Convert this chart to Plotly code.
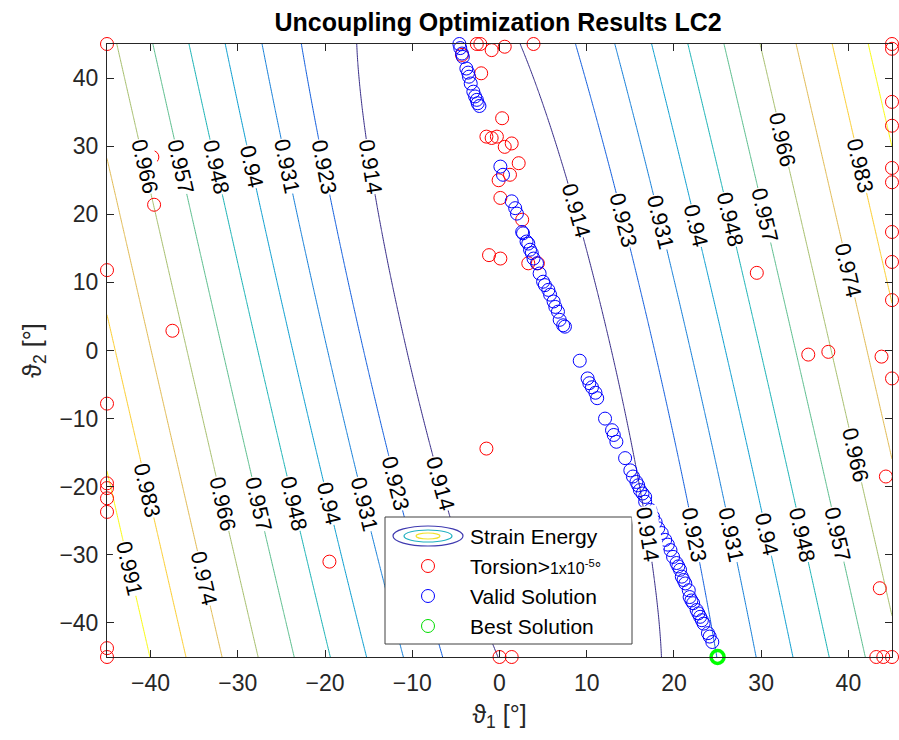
import numpy as np
import plotly.graph_objects as go

# ---------------------------------------------------------------------------
# Search grid of the two ply angles [deg]
theta_1 = np.linspace(-45, 45, 361)
theta_2 = np.linspace(-45, 45, 361)

# Normalised strain-energy surface: a skewed valley with softened walls
valley_offset = 1.1       # valley centre at theta_2 = 0
valley_skew = -0.18       # shift of the centre per degree of theta_2
wall_base = 0.8889        # intercept of the wall asymptote
wall_slope = 0.00208      # energy gain per degree away from the valley centre
knee_pos = 10.5           # distance at which the wall bends up [deg]
knee_width = 3.0          # softness of that bend [deg]
dip_depth = 0.0035        # extra depth of the valley at theta_2 = 0
dip_reach = 20.0          # how far the dip spreads across the valley [deg]

# Contour levels
level_start = 0.914
level_step = 0.0086
level_count = 10

# Valid solutions (torsion below threshold)
valid_t1 = [-4.6, -4.5, -4.3, -4.2, -3.8, -3.6, -3.5, -3.3, -3.0, -2.8, -2.6, -2.5, -2.3,
            0.1, 0.4,
            1.4, 1.8, 2.0, 2.6, 2.7, 3.1, 3.3, 3.5, 3.7, 3.9, 4.3, 4.6, 5.0, 5.2, 5.6, 5.8,
            6.2, 6.4, 6.7, 6.9, 7.3, 7.5,
            9.2, 10.1, 10.3, 10.6, 11.0, 11.2, 12.1, 12.9, 13.1, 13.4, 14.4, 15.0, 15.3,
            15.7, 15.9, 16.1, 16.4, 16.7, 16.7, 17.3, 17.6, 17.9, 18.2, 18.6, 19.0, 19.3,
            19.6, 19.9, 20.3, 20.5, 20.7, 20.9, 21.1, 21.3, 21.7, 21.8, 22.0, 22.2, 22.6,
            22.8, 23.0, 23.2, 23.4, 23.9, 24.1, 24.4]
valid_t2 = [45.0, 44.4, 43.6, 43.1, 41.4, 40.8, 40.2, 39.2, 38.0, 37.3, 36.8, 36.3, 35.9,
            27.0, 25.8,
            21.9, 20.9, 20.1, 17.4, 17.2, 16.0, 15.7, 14.8, 14.3, 13.5, 12.8, 11.3, 10.1,
            9.6, 8.9, 8.2, 7.2, 6.4, 5.7, 4.5, 3.7, 3.5,
            -1.5, -4.1, -4.8, -5.4, -6.2, -7.0, -10.0, -11.7, -12.4, -13.4, -15.8, -17.6,
            -18.5, -19.3, -19.8, -20.5, -21.0, -21.5, -22.2, -23.4, -24.4, -25.2, -26.1,
            -26.8, -27.8, -28.5, -29.3, -30.3, -31.2, -31.7, -32.2, -33.2, -33.7, -34.2,
            -35.2, -36.2, -36.7, -37.1, -38.1, -38.6, -39.1, -39.6, -40.1, -41.5, -42.0,
            -42.8]

# Rejected solutions (torsion above 1e-5 deg)
torsion_t1 = [-45, -45, -45, -45, -45, -45, -45, -45, -45,
              -39.8, -39.6, -37.5, -19.5,
              -4.3, -2.6, -2.2, -0.9, 0.6, 3.9, -2.1, 0.3, -1.5, -0.9, -0.3, 0.6, 1.4,
              2.2, -0.1, 1.2, 0.1, 2.6, -1.2, 0.1, 3.3, 4.4,
              -1.5, 0.0, 1.4,
              26.6, 29.5, 35.4, 37.7, 43.8,
              45, 45, 45, 45, 45, 45, 45, 45, 45, 45, 44.3, 43.6, 43.2, 44.0, 45]
torsion_t2 = [45, 11.8, -7.8, -19.5, -20.2, -21.7, -23.7, -43.7, -45,
              28.4, 21.4, 2.9, -31.0,
              43.4, 45, 45, 44.1, 44.6, 45, 40.7, 34.1, 31.4, 31.2, 31.4, 29.9, 30.4,
              27.5, 25.0, 25.8, 22.4, 19.2, 14.0, 13.5, 12.8, 12.8,
              -14.4, -45, -45,
              17.2, 11.4, -0.6, -0.2, -0.9,
              45, 44.3, 36.5, 33.0, 26.8, 24.7, 17.4, 13.0, 7.4, -4.1, -18.5, -34.9,
              -45, -45, -45]

# Optimum
best_t1 = [25.0]
best_t2 = [-45.0]

tick_vals = [-40, -30, -20, -10, 0, 10, 20, 30, 40]

# MATLAB parula colour map (sampled)
parula = [
    [0.0, "#352a87"], [0.111, "#0f5cdd"], [0.222, "#127dd8"], [0.333, "#079ccf"],
    [0.444, "#15b1b4"], [0.556, "#59bd8c"], [0.667, "#a5be6b"], [0.778, "#e1ba52"],
    [0.889, "#fccd2e"], [1.0, "#f9fb0e"],
]


# ---------------------------------------------------------------------------
def valley_centre(t2):
    return valley_offset + valley_skew * t2


def surface(t1, t2):
    d = np.abs(t1 - valley_centre(t2))
    wall = wall_base + wall_slope * knee_pos + wall_slope * knee_width * np.logaddexp(
        0.0, (d - knee_pos) / knee_width)
    dip = dip_depth * (1 - (t2 / 45.0) ** 2) * np.exp(-(d / dip_reach) ** 2)
    return wall - dip


def level_crossing(level, t2, side):
    """theta_1 where the surface equals `level` on one flank of the valley."""
    d = np.linspace(0.0, 90.0, 9001)
    vals = surface(valley_centre(t2) + side * d, t2)
    return valley_centre(t2) + side * np.interp(level, vals, d)


T1, T2 = np.meshgrid(np.array(theta_1), np.array(theta_2))
energy = surface(T1, T2)
levels = [level_start + k * level_step for k in range(level_count)]
level_end = levels[-1]

FONT = "Liberation Sans, Arial, Helvetica, sans-serif"
AX_COL = "#262626"
W, H = 899, 740
ML, MR, MT, MB = 107, 7, 44, 83
PW, PH = W - ML - MR, H - MT - MB
sx, sy = PW / 90.0, PH / 90.0   # pixels per degree

fig = go.Figure()

fig.add_trace(go.Contour(
    x=theta_1, y=theta_2, z=energy,
    contours=dict(start=level_start, end=level_end + 1e-4, size=level_step,
                  coloring="lines", showlabels=False),
    colorscale=parula, zauto=False, zmin=level_start, zmax=level_end,
    line=dict(width=1, smoothing=1),
    showscale=False, showlegend=False, hoverinfo="skip",
))

annotations = []

# Contour labels: (level index, flank, theta_2 row) placed on the computed lines
label_spots = (
    [(k, -1, 27.0) for k in range(7)]
    + [(0, -1, -19.5), (1, -1, -19.5)]
    + [(k, -1, -22.5) for k in range(2, 7)]
    + [(7, -1, -33.5), (8, -1, -20.5), (9, -1, -32.0)]
    + [(0, 1, 20.5), (1, 1, 19.2), (2, 1, 18.9), (3, 1, 18.4), (4, 1, 19.2),
       (5, 1, 19.9), (6, 1, 31.0), (7, 1, 11.8), (8, 1, 27.2)]
    + [(k, 1, -27.0) for k in range(6)]
    + [(6, 1, -15.3)]
)
for k, side, row in label_spots:
    lev = levels[k]
    xc = level_crossing(lev, row, side)
    slope = (level_crossing(lev, row - 0.5, side) - level_crossing(lev, row + 0.5, side))
    angle = np.degrees(np.arctan2(sy, slope * sx))
    annotations.append(dict(
        x=float(xc), y=row, xref="x", yref="y", showarrow=False,
        text=f"{lev:.3f}".rstrip("0"), textangle=float(angle),
        font=dict(family=FONT, size=22, color="black"),
        bgcolor="white", borderpad=0, xanchor="center", yanchor="middle",
    ))

fig.add_trace(go.Scatter(
    x=torsion_t1, y=torsion_t2, mode="markers", showlegend=False, cliponaxis=False,
    marker=dict(symbol="circle-open", size=13, color="#ff0000", line=dict(width=1)),
))
fig.add_trace(go.Scatter(
    x=valid_t1, y=valid_t2, mode="markers", showlegend=False, cliponaxis=False,
    marker=dict(symbol="circle-open", size=13, color="#0000ff", line=dict(width=1)),
))
fig.add_trace(go.Scatter(
    x=best_t1, y=best_t2, mode="markers", showlegend=False, cliponaxis=False,
    marker=dict(symbol="circle-open", size=13, color="#00ff00", line=dict(width=3.5)),
))


# ---------------------------------------------------------------------------
# Legend box drawn in paper coordinates
def px(x):
    return (x - ML) / PW


def py(y):
    return (H - MB - y) / PH


shapes = [dict(type="rect", xref="paper", yref="paper", layer="above",
               x0=px(385), x1=px(632), y0=py(644), y1=py(517),
               line=dict(color="#404040", width=1), fillcolor="white")]

icon_x = px(428)
rows = [536, 566, 596, 626]
# nested ellipses for the contour entry
for half_w, half_h, col in [(35, 10, "#3f3ab0"), (24, 6, "#1fb0c0"), (12, 3, "#f2e22a")]:
    shapes.append(dict(type="circle", xref="paper", yref="paper", layer="above",
                       xsizemode="pixel", ysizemode="pixel",
                       xanchor=icon_x, yanchor=py(rows[0]),
                       x0=-half_w, x1=half_w, y0=-half_h, y1=half_h,
                       line=dict(color=col, width=1.2)))
for row, col in zip(rows[1:], ["#ff0000", "#0000ff", "#00dd00"]):
    shapes.append(dict(type="circle", xref="paper", yref="paper", layer="above",
                       xsizemode="pixel", ysizemode="pixel",
                       xanchor=icon_x, yanchor=py(row),
                       x0=-6.5, x1=6.5, y0=-6.5, y1=6.5,
                       line=dict(color=col, width=1)))

legend_text = ["Strain Energy",
               "Torsion><span style='font-size:16px'>1x10<sup>-5</sup>°</span>",
               "Valid Solution", "Best Solution"]
for row, txt in zip(rows, legend_text):
    annotations.append(dict(xref="paper", yref="paper", x=px(468), y=py(row),
                            xanchor="left", yanchor="middle", showarrow=False,
                            text=txt, font=dict(family=FONT, size=21, color="black")))

axis_common = dict(range=[-45, 45], tickvals=tick_vals, ticks="inside", ticklen=7,
                   tickcolor=AX_COL, showline=True, linecolor=AX_COL, linewidth=1,
                   mirror="ticks", showgrid=False, zeroline=False,
                   tickfont=dict(family=FONT, size=23, color=AX_COL))

fig.update_layout(
    width=W, height=H,
    margin=dict(l=ML, r=MR, t=MT, b=MB, autoexpand=False),
    paper_bgcolor="white", plot_bgcolor="white",
    title=dict(text="<b>Uncoupling Optimization Results LC2</b>", x=0.554, xanchor="center",
               y=1 - 22 / H, yanchor="middle",
               font=dict(family=FONT, size=25, color="black")),
    xaxis=dict(axis_common, ticklabelstandoff=5,
               title=dict(text="ϑ<sub>1</sub> [°]", standoff=10,
                          font=dict(family=FONT, size=25, color=AX_COL))),
    yaxis=dict(axis_common, ticklabelstandoff=3,
               title=dict(text="ϑ<sub>2</sub> [°]", standoff=10,
                          font=dict(family=FONT, size=25, color=AX_COL))),
    shapes=shapes, annotations=annotations, showlegend=False,
)

fig.write_html("out.html")
